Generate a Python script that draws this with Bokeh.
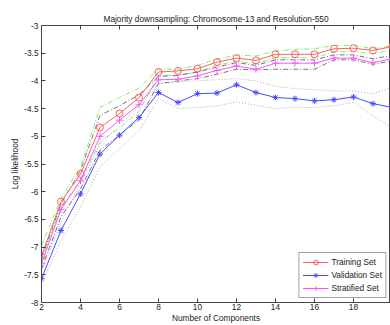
from bokeh.plotting import figure
from bokeh.models import FixedTicker, CustomJSTickFormatter, LinearAxis, Range1d
from bokeh.embed import file_html
from bokeh.resources import INLINE

components = [2, 3, 4, 5, 6, 7, 8, 9, 10, 11, 12, 13, 14, 15, 16, 17, 18, 19, 20]

training = [-7.16, -6.18, -5.68, -4.84, -4.59, -4.30, -3.84, -3.82, -3.78, -3.66,
            -3.59, -3.63, -3.52, -3.52, -3.52, -3.42, -3.41, -3.45, -3.38]
training_hi = [-6.98, -6.12, -5.55, -4.48, -4.30, -4.13, -3.79, -3.79, -3.72, -3.61,
               -3.53, -3.55, -3.46, -3.43, -3.42, -3.36, -3.36, -3.42, -3.37]
training_lo = [-7.25, -6.28, -5.80, -5.10, -4.85, -4.55, -3.90, -3.90, -3.84, -3.72,
               -3.64, -3.69, -3.58, -3.58, -3.58, -3.48, -3.47, -3.51, -3.44]

validation = [-7.57, -6.70, -6.04, -5.32, -4.98, -4.66, -4.21, -4.39, -4.23, -4.22,
              -4.07, -4.21, -4.30, -4.32, -4.36, -4.34, -4.29, -4.41, -4.48]
validation_hi = [-7.45, -6.55, -5.85, -5.15, -4.80, -4.45, -4.05, -4.02, -4.00, -3.98,
                 -3.96, -4.00, -4.10, -4.14, -4.16, -4.18, -4.18, -4.23, -4.12]
validation_lo = [-7.68, -6.88, -6.28, -5.55, -5.22, -4.90, -4.32, -4.50, -4.48, -4.45,
                 -4.38, -4.44, -4.50, -4.48, -4.48, -4.45, -4.39, -4.63, -4.85]

stratified = [-7.30, -6.32, -5.80, -5.00, -4.71, -4.43, -3.98, -3.97, -3.91, -3.81,
              -3.73, -3.79, -3.68, -3.68, -3.68, -3.59, -3.59, -3.67, -3.60]
stratified_hi = [-7.20, -6.22, -5.62, -4.62, -4.45, -4.25, -3.92, -3.90, -3.84, -3.75,
                 -3.67, -3.72, -3.62, -3.62, -3.62, -3.53, -3.53, -3.60, -3.54]
stratified_lo = [-7.40, -6.45, -5.95, -5.25, -4.98, -4.70, -4.05, -4.00, -3.96, -3.88,
                 -3.79, -3.80, -3.79, -3.79, -3.79, -3.62, -3.62, -3.70, -3.64]

x_ticks = [2, 4, 6, 8, 10, 12, 14, 16, 18, 20]
y_ticks = [-8, -7.5, -7, -6.5, -6, -5.5, -5, -4.5, -4, -3.5, -3]

FONT = "Liberation Sans"
FS = "8.3px"
AXIS_COLOR = "#444444"
TEXT_COLOR = "#222222"

p = figure(width=390, height=325, output_backend="svg", toolbar_location=None,
           x_range=Range1d(2, 19.9), y_range=Range1d(-8, -3),
           title="Majority downsampling: Chromosome-13 and Resolution-550",
           min_border_left=41, min_border_right=0, min_border_top=25, min_border_bottom=21)
p.title.align = "center"
p.title.text_font = FONT
p.title.text_font_size = FS
p.title.text_font_style = "normal"
p.title.text_color = TEXT_COLOR
p.title.standoff = 4
p.xgrid.visible = False
p.ygrid.visible = False
p.outline_line_color = AXIS_COLOR
p.background_fill_color = "white"
p.border_fill_color = "white"

fmt = CustomJSTickFormatter(code="return tick.toString();")
blank = CustomJSTickFormatter(code="return '';")

for ax, ticks in ((p.xaxis[0], x_ticks), (p.yaxis[0], y_ticks)):
    ax.ticker = FixedTicker(ticks=ticks)
    ax.formatter = fmt
    ax.major_tick_in = 4
    ax.major_tick_out = 0
    ax.minor_tick_line_color = None
    ax.axis_line_color = AXIS_COLOR
    ax.major_tick_line_color = AXIS_COLOR
    ax.major_label_text_font = FONT
    ax.major_label_text_font_size = FS
    ax.major_label_text_color = TEXT_COLOR
    ax.axis_label_text_font = FONT
    ax.axis_label_text_font_size = FS
    ax.axis_label_text_font_style = "normal"
    ax.axis_label_text_color = TEXT_COLOR

p.xaxis[0].axis_label = "Number of Components"
p.xaxis[0].major_label_standoff = 1
p.xaxis[0].axis_label_standoff = 0
p.yaxis[0].axis_label = "Log likelihood"
p.yaxis[0].major_label_standoff = 3
p.yaxis[0].axis_label_standoff = 1

top_axis = LinearAxis(ticker=FixedTicker(ticks=x_ticks), formatter=blank,
                      major_tick_in=4, major_tick_out=0, minor_tick_line_color=None,
                      axis_line_color=AXIS_COLOR, major_tick_line_color=AXIS_COLOR,
                      major_label_text_font_size="0px", major_label_standoff=0)
p.add_layout(top_axis, "above")

# envelopes
GREEN = "#66ee66"
DARK = "#666666"
LIGHT = "#aaaaaa"
for ys in (training_hi, training_lo):
    p.line(components, ys, line_color=GREEN, line_dash="5 2 1 2", line_width=0.9)
for ys in (stratified_hi, stratified_lo):
    p.line(components, ys, line_color=DARK, line_dash="5 2 1 2", line_width=0.9)
for ys in (validation_hi, validation_lo):
    p.line(components, ys, line_color=LIGHT, line_dash="1 2", line_width=1)

RED = "#ff6060"
BLUE = "#4a4aff"
MAG = "#ff55ff"
p.line(components, training, line_color=RED, line_width=1, legend_label="Training Set")
p.scatter(components, training, marker="circle", size=7, fill_color=None,
          line_color=RED, line_width=1, legend_label="Training Set")
p.line(components, validation, line_color=BLUE, line_width=1, legend_label="Validation Set")
p.scatter(components, validation, marker="asterisk", size=6,
          line_color=BLUE, line_width=1, legend_label="Validation Set")
p.line(components, stratified, line_color=MAG, line_width=1, legend_label="Stratified Set")
p.scatter(components, stratified, marker="cross", size=7,
          line_color=MAG, line_width=1, legend_label="Stratified Set")

lg = p.legend[0]
lg.location = "bottom_right"
lg.margin = 4
lg.padding = 3
lg.spacing = 1
lg.label_text_font = FONT
lg.label_text_font_size = FS
lg.label_text_color = TEXT_COLOR
lg.label_height = 12
lg.label_width = 10
lg.glyph_height = 12
lg.glyph_width = 26
lg.label_standoff = 3
lg.border_line_color = "#444444"
lg.background_fill_alpha = 1.0

open("out.html", "w").write(file_html(p, INLINE))
